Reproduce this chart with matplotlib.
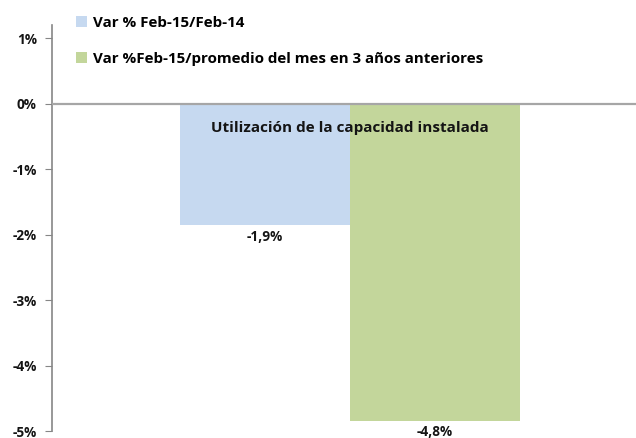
import matplotlib
matplotlib.use("Agg")
import matplotlib.pyplot as plt
from matplotlib.patches import Patch

# Variación de la utilización de la capacidad instalada (%)
series_labels = ["Var % Feb-15/Feb-14",
                 "Var %Feb-15/promedio del mes en 3 años anteriores"]
series_values = [-1.86, -4.84]
series_colors = ["#C6D9F0", "#C3D69B"]
category = "Utilización de la capacidad instalada"
y_ticks = [1, 0, -1, -2, -3, -4, -5]

plt.rcParams["font.family"] = ["Open Sans", "DejaVu Sans"]
plt.rcParams["font.weight"] = "bold"

W, H = 636, 438
fig = plt.figure(figsize=(W / 100, H / 100), dpi=100)
ax = fig.add_axes([52 / W, 7 / H, 584 / W, 406 / H])

width = 1.0
offsets = [-width / 2, width / 2]
for val, off, col in zip(series_values, offsets, series_colors):
    ax.bar(off, val, width=width, color=col, zorder=2)
    ax.annotate(f"{val:.1f}%".replace(".", ","), xy=(off, val),
                xytext=(0, -3), textcoords="offset points",
                ha="center", va="top", fontsize=9.8, fontweight="bold",
                color="#141414")

ax.axhline(0, color="#A6A6A6", lw=1.6, zorder=3)
ax.text(0, -0.37, category, ha="center", va="center", fontsize=11,
        fontweight="bold", color="#141414", zorder=4)

ax.set_xlim(-1.753, 1.682)
ax.set_ylim(-5, 1.2)
ax.set_yticks(y_ticks)
ax.set_yticklabels([f"{t}%" for t in y_ticks], fontsize=9.8, fontweight="bold",
                   color="#141414")
ax.set_xticks([])
for s in ("top", "right", "bottom"):
    ax.spines[s].set_visible(False)
ax.spines["left"].set_color("#868686")
ax.spines["left"].set_linewidth(1.2)
ax.tick_params(axis="y", direction="out", length=5, color="#868686", pad=6)

handles = [Patch(facecolor=c, edgecolor="none") for c in series_colors]
fig.legend(handles, series_labels, loc="upper left",
           bbox_to_anchor=(70 / W, 1 - 10 / H), frameon=False,
           prop={"size": 10.9, "weight": "bold"}, labelspacing=1.45,
           handlelength=0.7, handleheight=0.7, handletextpad=0.45,
           borderaxespad=0)

fig.savefig("out.png", dpi=100)
